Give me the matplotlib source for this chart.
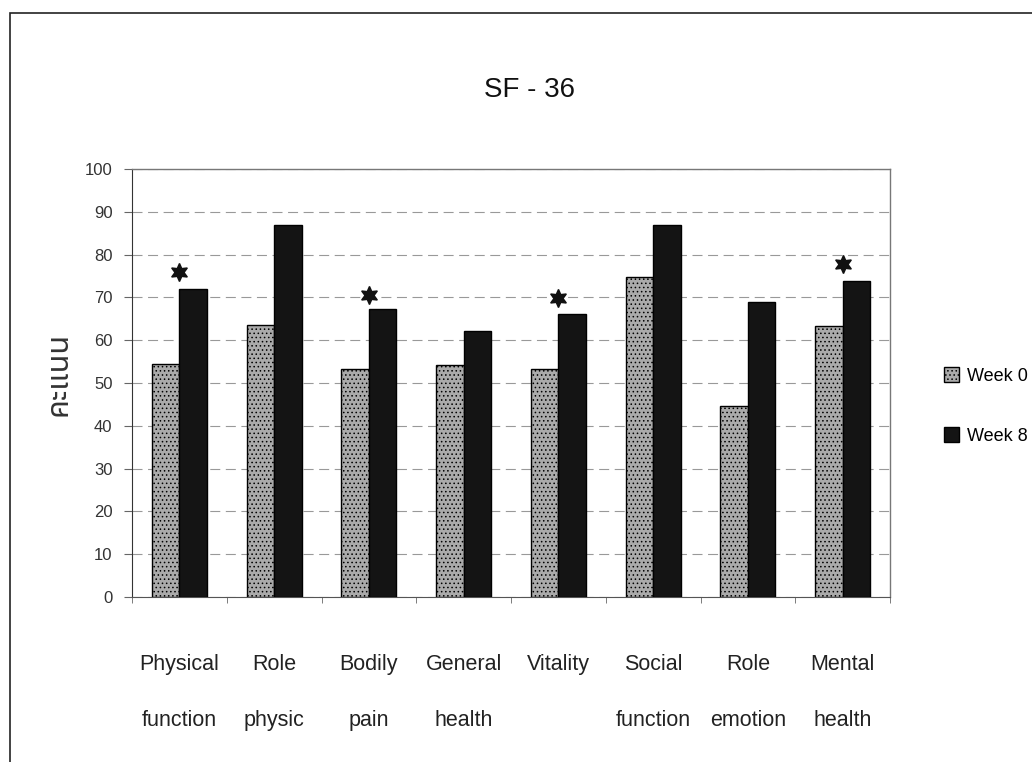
import matplotlib
matplotlib.use("Agg")
import matplotlib.pyplot as plt
from matplotlib.patches import Patch, Rectangle
import numpy as np

plt.rcParams['font.family'] = ['Liberation Sans', 'DejaVu Sans']
plt.rcParams['hatch.color'] = '#555555'
plt.rcParams['hatch.linewidth'] = 0.6

# data
categories = ["Physical\nfunction", "Role\nphysic", "Bodily\npain", "General\nhealth",
              "Vitality\n", "Social\nfunction", "Role\nemotion", "Mental\nhealth"]
week0 = [54.4, 63.5, 53.3, 54.2, 53.3, 74.8, 44.6, 63.4]
week8 = [72.0, 86.9, 67.4, 62.1, 66.1, 86.8, 68.9, 73.9]
# significance stars (None = no star)
stars = [76.0, None, 70.6, None, 69.8, None, None, 77.8]
yticks = list(range(0, 101, 10))

fig = plt.figure(figsize=(10.32, 7.62), dpi=100)
ax = fig.add_axes([132 / 1032, 1 - 597 / 762, (890 - 132) / 1032, (597 - 169) / 762])

x = np.arange(len(categories))
w = 0.29
ax.bar(x - w / 2, week0, width=w, color='#aaaaaa', edgecolor='black', linewidth=1.0,
       hatch='....', label='Week 0', zorder=3)
ax.bar(x + w / 2, week8, width=w, color='#141414', edgecolor='black', linewidth=1.0,
       label='Week 8', zorder=3)

sx = [xi for xi, s in zip(x, stars) if s is not None]
sy = [s for s in stars if s is not None]
ax.plot(sx, sy, linestyle='none', marker=(6, 1, 0), markersize=13, color='#111111', zorder=4)

ax.set_xlim(-0.5, len(categories) - 0.5)
ax.set_ylim(0, 100)
ax.set_yticks(yticks)
ax.yaxis.grid(True, linestyle=(0, (9, 5)), color='#999999', linewidth=0.8, zorder=0)
ax.set_axisbelow(True)

ax.set_xticks(x)
ax.set_xticklabels(categories, fontsize=15.5, linespacing=3.2, color='#222222')
ax.set_xticks(np.arange(len(categories) + 1) - 0.5, minor=True)
ax.tick_params(axis='x', which='major', length=0, pad=41)
ax.tick_params(axis='x', which='minor', length=4, color='#666666')
ax.tick_params(axis='y', length=6, color='#666666', labelsize=12, labelcolor='#333333', pad=8)

for side in ['top', 'right']:
    ax.spines[side].set_color('#777777')
    ax.spines[side].set_linewidth(1.0)
ax.spines['left'].set_color('#333333')
ax.spines['bottom'].set_color('#555555')

ax.set_ylabel('คะแนน', family=['Noto Sans Thai', 'Tlwg Typo', 'Loma', 'DejaVu Sans'],
              fontsize=22, fontweight='bold', color='#333333')
ax.yaxis.set_label_coords(-0.077, 0.521)

fig.text(530 / 1032, 1 - 90 / 762, 'SF - 36', ha='center', va='center', fontsize=20,
         color='#111111')

handles = [Patch(facecolor='#aaaaaa', edgecolor='black', hatch='....'),
           Patch(facecolor='#141414', edgecolor='black')]
fig.legend(handles, ['Week 0', 'Week 8'], loc='upper left',
           bbox_to_anchor=(928 / 1032, 1 - 351 / 762), frameon=False,
           handlelength=0.8, handleheight=0.85, handletextpad=0.45,
           labelspacing=2.35, fontsize=13)

# outer chart frame
fig.add_artist(Rectangle((10 / 1032, -0.02), 1.1, 1.02 - 13 / 762, transform=fig.transFigure,
                         fill=False, edgecolor='#222222', linewidth=1.2))

fig.savefig('out.png', dpi=100, facecolor='white')
